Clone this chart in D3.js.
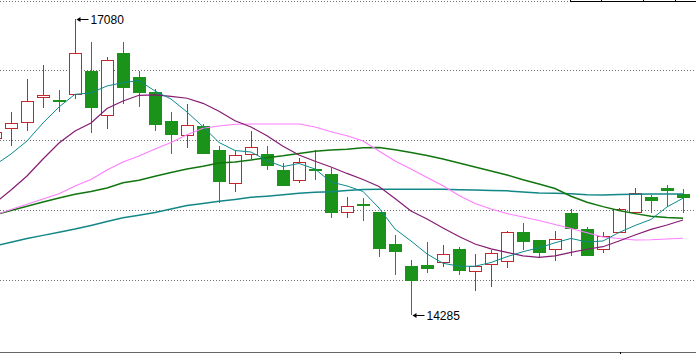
<!DOCTYPE html>
<html>
<head>
<meta charset="utf-8">
<script src="https://cdnjs.cloudflare.com/ajax/libs/d3/7.8.5/d3.min.js"></script>
<style>
  html, body { margin: 0; padding: 0; background: #fff; overflow: hidden; }
  svg { display: block; }
</style>
</head>
<body>
<script>
// candles, oldest first (first one is cut off at the left edge)
const opens  = [15953, 16045, 16107, 16333, 16316, 16365, 16585, 16167, 16758, 16528, 16387, 16114, 15979, 16066, 15840, 15526, 15800, 15802, 15652, 15554, 15663, 15614, 15258, 15329, 15258, 14954, 14746, 14756, 14781, 14907, 14706, 14762, 14794, 15067, 14992, 14904, 15246, 15095, 14904, 15064, 15249, 15397, 15482, 15425];
const highs  = [16076, 16198, 16510, 16642, 16406, 17080, 16858, 16720, 16858, 16588, 16415, 16198, 16274, 16085, 15881, 15834, 16019, 15881, 15715, 15765, 15840, 15673, 15400, 15385, 15258, 15039, 14803, 14976, 14944, 14923, 14860, 14897, 15076, 15155, 14992, 15076, 15284, 15111, 15067, 15293, 15482, 15416, 15510, 15472];
const lows   = [15887, 15881, 16022, 16233, 16201, 16321, 16003, 16041, 16271, 16248, 16022, 15805, 15862, 15802, 15338, 15447, 15758, 15654, 15513, 15532, 15557, 15202, 15202, 15171, 14834, 14662, 14285, 14678, 14740, 14664, 14514, 14551, 14730, 14897, 14828, 14796, 14844, 14853, 14872, 15064, 15234, 15249, 15306, 15249];
const closes = [16010, 16092, 16302, 16356, 16307, 16752, 16248, 16686, 16437, 16387, 16088, 15994, 16073, 15815, 15551, 15793, 15868, 15702, 15513, 15724, 15653, 15258, 15312, 15320, 14919, 14891, 14617, 14730, 14860, 14712, 14749, 14866, 15067, 14985, 14881, 14998, 15108, 14853, 15029, 15284, 15432, 15372, 15466, 15400];

// moving averages
const ma5  = [15699, 15802, 15925, 16095, 16246, 16365, 16378, 16444, 16475, 16495, 16396, 16321, 16198, 16060, 15911, 15835, 15821, 15741, 15683, 15713, 15661, 15538, 15501, 15449, 15293, 15095, 14982, 14860, 14772, 14744, 14744, 14779, 14834, 14881, 14918, 14965, 15006, 14973, 14982, 15062, 15128, 15185, 15303, 15385];
const ma10 = [15340, 15463, 15595, 15755, 15906, 16019, 16095, 16231, 16302, 16356, 16359, 16345, 16328, 16280, 16205, 16116, 16057, 15975, 15875, 15793, 15734, 15680, 15619, 15562, 15496, 15383, 15265, 15190, 15105, 15025, 14954, 14907, 14874, 14841, 14828, 14841, 14874, 14904, 14928, 14982, 15039, 15092, 15133, 15180];
const ma20 = [15227, 15279, 15328, 15378, 15428, 15501, 15562, 15652, 15727, 15784, 15850, 15911, 15984, 16045, 16066, 16083, 16085, 16085, 16085, 16085, 16057, 16012, 15974, 15925, 15831, 15736, 15661, 15581, 15503, 15411, 15336, 15284, 15241, 15208, 15175, 15138, 15100, 15060, 15020, 15006, 14992, 14994, 15001, 15008];
const ma40 = [15227, 15270, 15309, 15350, 15388, 15422, 15449, 15482, 15531, 15555, 15592, 15628, 15661, 15687, 15718, 15727, 15746, 15768, 15785, 15807, 15828, 15840, 15848, 15861, 15864, 15842, 15817, 15788, 15755, 15718, 15680, 15642, 15604, 15560, 15520, 15477, 15404, 15347, 15306, 15269, 15240, 15216, 15204, 15196];
const ma60 = [14935, 14970, 15005, 15035, 15065, 15095, 15129, 15165, 15201, 15225, 15251, 15284, 15316, 15336, 15356, 15374, 15394, 15404, 15417, 15432, 15442, 15447, 15457, 15468, 15470, 15470, 15470, 15470, 15470, 15466, 15463, 15459, 15455, 15444, 15435, 15432, 15427, 15419, 15416, 15421, 15423, 15425, 15425, 15425];

const gridValues = [17245, 16585, 15925, 15265, 14605];

const width = 696, height = 354;

const x = d3.scaleLinear().domain([0, opens.length - 1]).range([-5, -5 + 16 * (opens.length - 1)]);
const y = d3.scaleLinear().domain([14285, 17080]).range([314.9, 18.5]);

const upColor = "#c4262e", downColor = "#1b931b";

const svg = d3.select("body").append("svg")
  .attr("width", width)
  .attr("height", height);

// dotted grid
svg.append("g")
  .selectAll("line")
  .data(gridValues)
  .enter().append("line")
  .attr("x1", 0)
  .attr("x2", (d, i) => i === 0 ? 570 : 694)
  .attr("y1", d => Math.floor(y(d)) + 0.5)
  .attr("y2", d => Math.floor(y(d)) + 0.5)
  .attr("stroke", "#707070")
  .attr("stroke-width", 1)
  .attr("stroke-dasharray", "1,2");

// bit of the table border at top right
const topBox = svg.append("g").attr("stroke", "#000").attr("shape-rendering", "crispEdges");
topBox.append("line").attr("x1", 570).attr("x2", width).attr("y1", 1.5).attr("y2", 1.5);
[570, 601, 643, 675].forEach(px => {
  topBox.append("line").attr("x1", px + 0.5).attr("x2", px + 0.5).attr("y1", 0).attr("y2", 2);
});

// bottom border
svg.append("line")
  .attr("x1", 0).attr("x2", width)
  .attr("y1", 352.5).attr("y2", 352.5)
  .attr("stroke", "#666");
svg.append("line")
  .attr("x1", 620.5).attr("x2", 620.5)
  .attr("y1", 352).attr("y2", 354)
  .attr("stroke", "#000");

// candles
const candles = opens.map((o, i) => ({ i, o, h: highs[i], l: lows[i], c: closes[i] }));

const cg = svg.append("g").attr("shape-rendering", "crispEdges");

cg.selectAll(".wick")
  .data(candles)
  .enter().append("line")
  .attr("class", "wick")
  .attr("x1", d => x(d.i) + 0.5)
  .attr("x2", d => x(d.i) + 0.5)
  .attr("y1", d => Math.round(y(d.h)))
  .attr("y2", d => Math.round(y(d.l)))
  .attr("stroke", d => d.c > d.o ? upColor : downColor);

cg.selectAll(".body")
  .data(candles)
  .enter().append("rect")
  .attr("class", "body")
  .attr("x", d => x(d.i) - 5.5)
  .attr("width", 12)
  .attr("y", d => Math.round(y(Math.max(d.o, d.c))) + 0.5)
  .attr("height", d => Math.max(1, Math.round(Math.abs(y(d.o) - y(d.c)))))
  .attr("fill", d => d.c > d.o ? "#fff" : downColor)
  .attr("stroke", d => d.c > d.o ? upColor : downColor)
  .attr("stroke-width", 1);

// moving average lines
const maSeries = [
  { values: ma60, color: "#138787", w: 1.5 },
  { values: ma40, color: "#11760f", w: 1.5 },
  { values: ma20, color: "#ff7dff", w: 1.1 },
  { values: ma10, color: "#861c73", w: 1.2 },
  { values: ma5,  color: "#0b8a8c", w: 1 }
];

const line = d3.line()
  .x((d, i) => x(i))
  .y(d => y(d));

svg.append("g")
  .selectAll("path")
  .data(maSeries)
  .enter().append("path")
  .attr("d", d => line(d.values))
  .attr("fill", "none")
  .attr("stroke", d => d.color)
  .attr("stroke-width", d => d.w);

// high / low markers
const hiIdx = d3.maxIndex(highs), loIdx = d3.minIndex(lows);
const marks = [
  { i: hiIdx, v: highs[hiIdx] },
  { i: loIdx, v: lows[loIdx] }
];

const mg = svg.append("g").selectAll("g")
  .data(marks)
  .enter().append("g")
  .attr("transform", d => `translate(${x(d.i) + 0.5},${Math.round(y(d.v)) + 0.5})`);

mg.append("path")
  .attr("d", "M1,0L5,-2.5L5,2.5Z")
  .attr("fill", "#000");
mg.append("line")
  .attr("x1", 4).attr("x2", 13)
  .attr("stroke", "#000");
mg.append("text")
  .attr("x", 15)
  .attr("dy", "0.36em")
  .style("font-family", "'Liberation Sans', Arial, sans-serif")
  .style("font-size", "12px")
  .attr("fill", "#000")
  .text(d => d.v);
</script>
</body>
</html>
